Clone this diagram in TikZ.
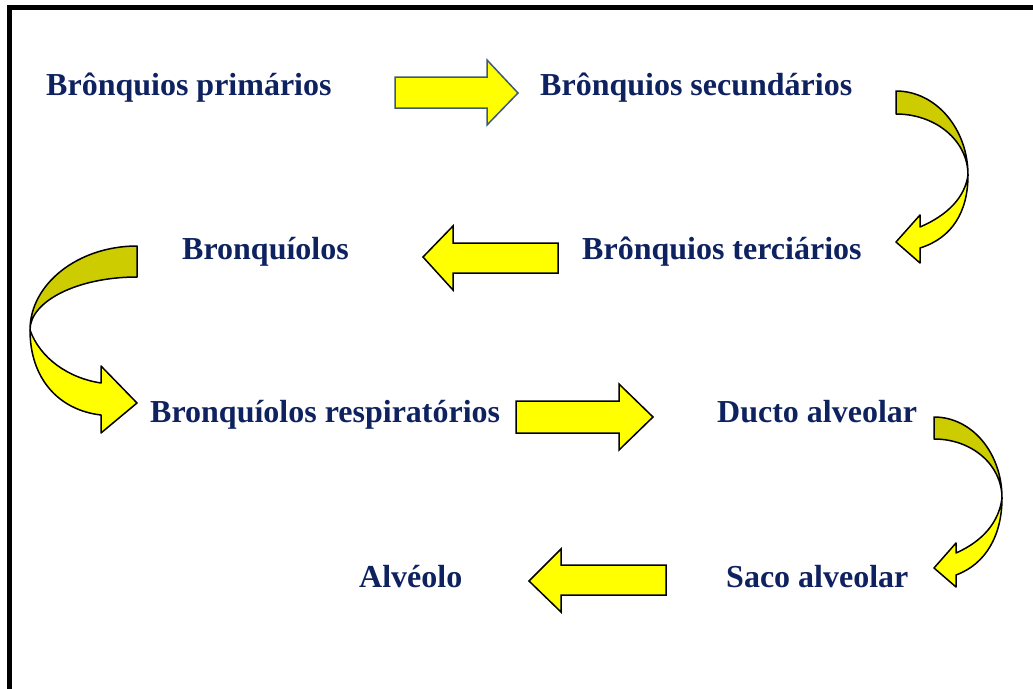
\documentclass[tikz,border=0pt]{standalone}
\usepackage{fontspec}
\setmainfont{Liberation Serif}
\definecolor{navy}{HTML}{0F2260}
\definecolor{ayellow}{HTML}{FFFF00}
\definecolor{adark}{HTML}{CCCC00}
\definecolor{slateedge}{HTML}{3E5B76}
\begin{document}
\begin{tikzpicture}[x=1pt,y=-1pt,
  lbl/.style={anchor=base west,inner sep=0pt,text=navy,font=\fontsize{32}{36}\selectfont\bfseries},
  arr/.style={fill=ayellow,draw=black,line width=1.5pt,line join=miter},
  arrback/.style={fill=adark,draw=black,line width=1.5pt,line join=round}]
\useasboundingbox (0,0) rectangle (1033,688);
\clip (0,0) rectangle (1033,688);
\draw[line width=5pt] (9.5,7) rectangle (1060,720);

% labels
\node[lbl] (bp) at (46,95) {Brônquios primários};
\node[lbl] (bs) at (540,95) {Brônquios secundários};
\node[lbl] (bt) at (582,259) {Brônquios terciários};
\node[lbl] (bq) at (182,259) {Bronquíolos};
\node[lbl] (br) at (150,422) {Bronquíolos respiratórios};
\node[lbl] (da) at (717,422) {Ducto alveolar};
\node[lbl] (sa) at (726,587) {Saco alveolar};
\node[lbl] (al) at (359,587) {Alvéolo};

% straight arrows
\draw[arr,draw=slateedge] (395,77) -- (487,77) -- (487,60) -- (518,93) -- (487,125) -- (487,108) -- (395,108) -- cycle;
\draw[arr] (558,243) -- (453,243) -- (453,226) -- (423,257) -- (453,290) -- (453,273) -- (558,273) -- cycle;
\draw[arr] (516,401) -- (619,401) -- (619,384) -- (653,417) -- (619,450) -- (619,433) -- (516,433) -- cycle;
\draw[arr] (666,565) -- (561,565) -- (561,549) -- (529,581) -- (561,612) -- (561,595) -- (666,595) -- cycle;

% curved arrow 1 (top right)
\draw[arrback] (896,91) .. controls (936,91) and (968,129) .. (968,175)
  .. controls (968,141) and (936,114) .. (896,114) -- cycle;
\draw[arr,line join=round] (968,175) .. controls (968,212) and (952,238) .. (920,248)
  -- (920,263) -- (896,242) -- (920,215) -- (920,227)
  .. controls (948,215) and (965,197) .. (968,175) -- cycle;

% curved arrow 2 (bottom right)
\draw[arrback] (934,417) .. controls (972,417) and (1002,453) .. (1002,498)
  .. controls (1002,465) and (972,439) .. (934,439) -- cycle;
\draw[arr,line join=round] (1002,498) .. controls (1002,535) and (986,564) .. (956,575)
  -- (956,587) -- (934,568) -- (956,543) -- (956,553)
  .. controls (983,541) and (999,522) .. (1002,498) -- cycle;

% curved arrow 3 (left)
\draw[arrback] (137,246) .. controls (78,246) and (30,284) .. (30,330)
  .. controls (30,301) and (78,277) .. (137,277) -- cycle;
\draw[arr,line join=round] (30,330) .. controls (30,378) and (58,410) .. (101,415)
  -- (101,433) -- (137,403) -- (101,366) -- (101,383)
  .. controls (68,378) and (40,358) .. (30,330) -- cycle;
\end{tikzpicture}
\end{document}
